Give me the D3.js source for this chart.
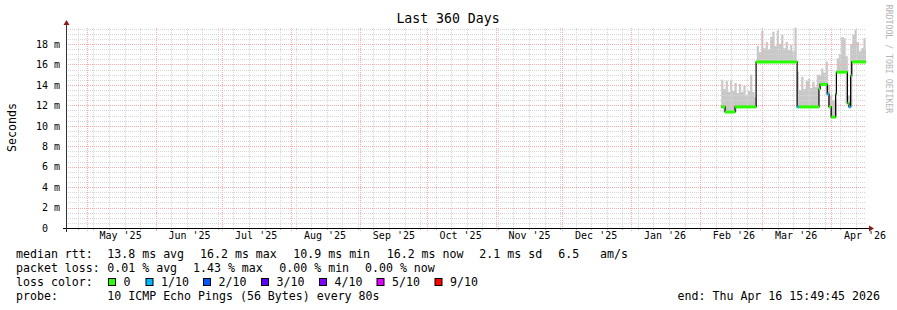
<!DOCTYPE html>
<html>
<head>
<meta charset="utf-8">
<script src="https://cdn.jsdelivr.net/npm/d3@7"></script>
<style>
  body { margin: 0; background: #fff; }
  svg { display: block; font-family: "DejaVu Sans Mono", monospace; }
</style>
</head>
<body>
<svg id="chart"></svg>
<script>
// ---- data ----
const endTime = new Date("2026-04-16T15:49:45Z");
const spanDays = 360;

const yTicks = [0, 2, 4, 6, 8, 10, 12, 14, 16, 18];

// smoke (gray band) : one value per day, first day starts here
const smokeStart = new Date("2026-02-10T12:00:00Z");
const smokeLow = [11.85, 11.35, 11.35, 11.35, 11.35, 11.35, 11.35, 11.85, 11.85, 11.85, 11.85, 11.85, 11.85, 11.85, 11.85, 11.85,
  16.25, 16.25, 16.25, 16.25, 16.25, 16.25, 16.25, 16.25, 16.25, 16.25, 16.25, 16.25, 16.25, 16.25, 16.25, 16.25, 16.25, 16.25,
  11.85, 11.85, 11.85, 11.85, 11.85, 11.85, 11.85, 11.85, 11.85, 11.85,
  13.6, 14.05, 14.05, 13.1,
  11.85, 10.85, 10.85, 10.85,
  15.25, 15.25, 15.25, 15.25, 12.2,
  11.85, 11.85,
  16.25, 16.25, 16.25, 16.25, 16.25, 16.25, 16.25];
const smokeHigh = [14.5, 13.6, 14.4, 13.3, 14.5, 13.4, 14.2, 13.2, 14.1, 13.3, 13.9, 13.0, 13.4, 15.0, 13.3, 12.8,
  17.8, 17.2, 19.3, 17.6, 18.2, 17.5, 18.7, 19.2, 17.8, 19.3, 18.0, 18.9, 17.6, 18.2, 17.4, 17.9, 17.3, 19.6,
  15.3, 13.5, 14.8, 13.6, 14.4, 14.6, 13.7, 14.3, 13.8, 15.0,
  15.0, 15.6, 15.2, 16.3,
  14.0, 13.0, 12.5, 12.6,
  16.6, 17.0, 18.7, 18.6, 16.8,
  13.0, 18.0,
  18.9, 19.4, 18.2, 17.3, 17.6, 18.6, 17.4];

// median rtt steps (ms) and loss level of each step
const medianTimes = ["2026-02-10T12:00Z", "2026-02-12T06:00Z", "2026-02-16T18:00Z", "2026-02-26T05:00Z",
  "2026-03-16T16:00Z", "2026-03-17T13:00Z", "2026-03-26T12:00Z", "2026-03-27T00:00Z", "2026-03-30T06:00Z",
  "2026-03-31T00:00Z", "2026-04-01T00:00Z", "2026-04-03T00:00Z", "2026-04-03T08:00Z", "2026-04-08T07:00Z",
  "2026-04-09T00:00Z", "2026-04-09T18:00Z", "2026-04-10T06:00Z"];
const medianValues = [11.85, 11.35, 11.85, 16.25, 11.85, 11.85, 13.6, 14.05, 13.1, 11.85, 10.85, 13.1, 15.25, 12.2, 11.85, 14.9, 16.25];
const medianLoss = [0, 0, 0, 0, 1, 0, 0, 0, 1, 0, 0, 0, 0, 0, 1, 0, 0];

const lossLabels = ["0", "1/10", "2/10", "3/10", "4/10", "5/10", "9/10"];
const lossColors = ["#26ff00", "#00b8ff", "#0059ff", "#5e00ff", "#7e00ff", "#dd00ff", "#ff0000"];

const rttRow = ["median rtt:", "13.8 ms avg", "16.2 ms max", "10.9 ms min", "16.2 ms now", "2.1 ms sd", "6.5", "am/s"];
const lossRow = ["packet loss:", "0.01 % avg", "1.43 % max", "0.00 % min", "0.00 % now"];
const probeRow = ["probe:", "10 ICMP Echo Pings (56 Bytes) every 80s"];
const endText = "end: Thu Apr 16 15:49:45 2026";

class SmokeChart {

  constructor(_config) {
    this.config = {
      parentElement: _config.parentElement,
      containerWidth: 897,
      containerHeight: 310,
      margin: { top: 28, left: 66, width: 800, height: 200 }
    };
    this.initVis();
  }

  initVis() {
    let vis = this;
    const m = vis.config.margin;

    vis.svg = d3.select(vis.config.parentElement)
      .attr('width', vis.config.containerWidth)
      .attr('height', vis.config.containerHeight);

    vis.svg.append('rect').attr('width', 897).attr('height', 310).attr('fill', '#fff');

    const startTime = new Date(endTime - spanDays * 864e5);

    vis.xScale = d3.scaleUtc()
      .domain([startTime, endTime])
      .range([m.left, m.left + m.width]);

    vis.yScale = d3.scaleLinear()
      .domain([0, 19.57])
      .range([m.top + m.height, m.top]);

    const x = vis.xScale, y = vis.yScale;
    const y0 = m.top + m.height, y1 = m.top, x0 = m.left, x1 = m.left + m.width;

    // ---- smoke ----
    const smoke = smokeHigh.map((v, i) => ({ t: d3.utcDay.offset(smokeStart, i), lo: smokeLow[i], hi: v }));
    smoke.push({ t: endTime, lo: smokeLow[smokeLow.length - 1], hi: smokeHigh[smokeHigh.length - 1] });

    vis.svg.append('path')
      .datum(smoke)
      .attr('fill', '#c8c8c8')
      .attr('d', d3.area()
        .curve(d3.curveStepAfter)
        .x(d => x(d.t))
        .y0(d => y(d.lo))
        .y1(d => y(d.hi)));

    // ---- grid ----
    const grid = vis.svg.append('g').attr('shape-rendering', 'crispEdges');
    const minorY = d3.range(0.5, 19.6, 0.5).filter(v => v % 2 !== 0);
    grid.selectAll('.hmin').data(minorY).join('line')
      .attr('x1', x0).attr('x2', x1)
      .attr('y1', d => Math.round(y(d)) + 0.5).attr('y2', d => Math.round(y(d)) + 0.5)
      .attr('stroke', '#d6d6d6').attr('stroke-dasharray', '1,1');

    const weeks = d3.utcSunday.range(startTime, endTime);
    grid.selectAll('.vmin').data(weeks).join('line')
      .attr('x1', d => Math.round(x(d)) + 0.5).attr('x2', d => Math.round(x(d)) + 0.5)
      .attr('y1', y1).attr('y2', y0 + 2)
      .attr('stroke', '#d6d6d6').attr('stroke-dasharray', '1,1');

    grid.selectAll('.hmaj').data(yTicks.slice(1)).join('line')
      .attr('x1', x0).attr('x2', x1)
      .attr('y1', d => Math.round(y(d)) + 0.5).attr('y2', d => Math.round(y(d)) + 0.5)
      .attr('stroke', '#ffaaaa').attr('stroke-dasharray', '1,1');

    const months = d3.utcMonth.range(startTime, endTime);
    grid.selectAll('.vmaj').data(months).join('line')
      .attr('x1', d => Math.round(x(d)) + 0.5).attr('x2', d => Math.round(x(d)) + 0.5)
      .attr('y1', y1).attr('y2', y0 + 3)
      .attr('stroke', '#ffaaaa').attr('stroke-dasharray', '1,1');

    // ---- median line: thin black steps, then loss coloured pieces ----
    const steps = medianTimes.map((t, i) => ({
      t0: new Date(t),
      t1: i < medianTimes.length - 1 ? new Date(medianTimes[i + 1]) : endTime,
      v: medianValues[i],
      loss: medianLoss[i]
    }));
    const stepPts = steps.map(s => ({ t: s.t0, v: s.v }));
    stepPts.push({ t: endTime, v: medianValues[medianValues.length - 1] });

    vis.svg.append('path')
      .datum(stepPts)
      .attr('fill', 'none')
      .attr('stroke', '#000')
      .attr('stroke-width', 1.2)
      .attr('d', d3.line().curve(d3.curveStepAfter).x(d => x(d.t)).y(d => y(d.v)));

    const seg = d3.line().x(d => x(d[0])).y(d => y(d[1]));
    vis.svg.selectAll('.med').data(steps).join('path')
      .attr('fill', 'none')
      .attr('stroke', d => lossColors[d.loss])
      .attr('stroke-width', 3)
      .attr('d', d => seg([[d.t0, d.v], [d.t1, d.v]]));

    // ---- axes ----
    const labelDates = months.map(d => d3.utcDay.offset(d, 15)).filter(d => d <= endTime);
    vis.xAxisG = vis.svg.append('g')
      .attr('transform', `translate(0,${y0})`)
      .call(d3.axisBottom(x).tickValues(labelDates).tickSize(0).tickPadding(4).tickFormat(d3.utcFormat("%b '%y")));
    vis.xAxisG.select('.domain').remove();
    vis.xAxisG.selectAll('text').attr('font-size', 10).attr('font-family', 'DejaVu Sans Mono').attr('fill', '#000');

    vis.yAxisG = vis.svg.append('g')
      .attr('transform', `translate(${x0},0)`)
      .call(d3.axisLeft(y).tickValues(yTicks).tickSize(0).tickPadding(6)
        .tickFormat(d => d === 0 ? '0  ' : d + ' m'));
    vis.yAxisG.select('.domain').remove();
    vis.yAxisG.selectAll('text')
      .attr('xml:space', 'preserve')
      .attr('font-size', 10).attr('font-family', 'DejaVu Sans Mono').attr('fill', '#000');

    // small ticks under the x axis
    vis.svg.append('g').selectAll('line').data(weeks).join('line')
      .attr('x1', d => Math.round(x(d)) + 0.5).attr('x2', d => Math.round(x(d)) + 0.5)
      .attr('y1', y0).attr('y2', y0 + 2).attr('stroke', '#aaa');

    // axis lines with arrow heads
    vis.svg.append('line').attr('x1', x0 - 3).attr('x2', x1 + 3).attr('y1', y0 + 0.5).attr('y2', y0 + 0.5)
      .attr('stroke', '#000');
    vis.svg.append('line').attr('x1', x0 + 0.5).attr('x2', x0 + 0.5).attr('y1', y0 + 4).attr('y2', y1 - 4)
      .attr('stroke', '#333');
    vis.svg.append('path').attr('d', `M${x1 + 3},${y0 - 2.5}L${x1 + 8},${y0 + 0.5}L${x1 + 3},${y0 + 3.5}Z`).attr('fill', '#8b1a1a');
    vis.svg.append('path').attr('d', `M${x0 - 2.5},${y1 - 3}L${x0 + 0.5},${y1 - 8}L${x0 + 3.5},${y1 - 3}Z`).attr('fill', '#8b1a1a');

    // ---- texts ----
    vis.svg.append('text').attr('x', 448).attr('y', 23).attr('text-anchor', 'middle')
      .attr('font-size', 13.2).text('Last 360 Days');

    vis.svg.append('text').attr('transform', 'translate(15.5,127.5) rotate(-90)').attr('text-anchor', 'middle')
      .attr('font-size', 11.6).text('Seconds');

    vis.svg.append('text').attr('transform', 'translate(885.5,59) rotate(90)').attr('text-anchor', 'middle')
      .attr('font-size', 8.2).attr('fill', '#b4b4b4').text('RRDTOOL / TOBI OETIKER');

    // legend
    const lg = vis.svg.append('g').attr('font-size', 11.6).attr('fill', '#000');
    const rttX = [16, 107.3, 200, 293.3, 386.7, 479.3, 558.3, 600];
    const lossX = [16, 107.3, 193, 279.3, 365];
    lg.selectAll('.r1').data(rttRow).join('text').attr('x', (d, i) => rttX[i]).attr('y', 258).text(d => d);
    lg.selectAll('.r2').data(lossRow).join('text').attr('x', (d, i) => lossX[i]).attr('y', 272).text(d => d);
    lg.append('text').attr('x', 16).attr('y', 286).text('loss color:');

    const boxX = [108.5, 146, 203.5, 261.5, 319.5, 377, 435];
    lg.selectAll('.box').data(lossColors).join('rect')
      .attr('x', (d, i) => boxX[i]).attr('y', 278.5).attr('width', 7).attr('height', 7)
      .attr('fill', d => d).attr('stroke', '#000').attr('stroke-width', 1);
    lg.selectAll('.bl').data(lossLabels).join('text')
      .attr('x', (d, i) => boxX[i] + 15).attr('y', 286).text(d => d);

    lg.selectAll('.r4').data(probeRow).join('text').attr('x', (d, i) => i === 0 ? 16 : 107.3).attr('y', 300).text(d => d);
    lg.append('text').attr('x', 880).attr('y', 300).attr('text-anchor', 'end').text(endText);
  }
}

new SmokeChart({ parentElement: '#chart' });
</script>
</body>
</html>
